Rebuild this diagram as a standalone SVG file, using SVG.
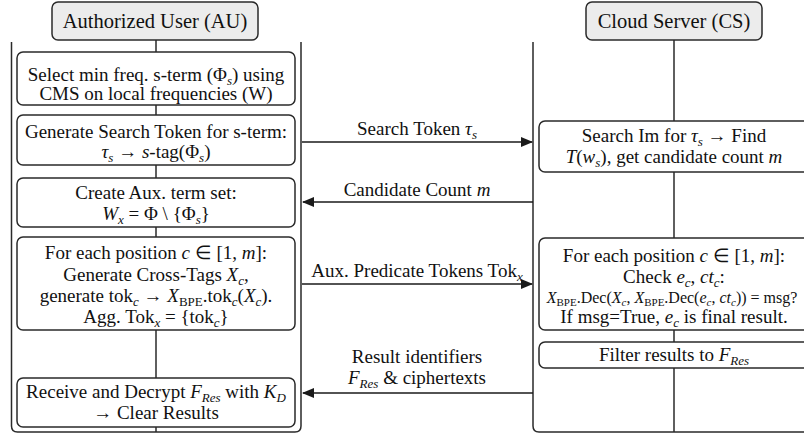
<svg xmlns="http://www.w3.org/2000/svg" width="804" height="435" viewBox="0 0 804 435">
<defs>
<style>
.box{fill:#fff;stroke:#2a2a2a;stroke-width:1.5}
.hdr{fill:#ececec;stroke:#2a2a2a;stroke-width:1.5}
.lane{fill:none;stroke:#2a2a2a;stroke-width:1.5}
.life{stroke:#2a2a2a;stroke-width:1.5}
.arr{stroke:#1a1a1a;stroke-width:1.6;fill:none}
text{font-family:"Liberation Serif","Times New Roman",serif;font-size:19px;fill:#111;text-anchor:middle}
.h{font-size:20.5px}
.sm{font-size:16px}
.i{font-style:italic}
.sub{font-size:13px;baseline-shift:-4px}
.sm .sub{font-size:11px;baseline-shift:-3px}
</style>
<marker id="ah" markerUnits="userSpaceOnUse" markerWidth="12" markerHeight="10" refX="11" refY="5" orient="auto">
<path d="M0,0 L12,5 L0,10 z" fill="#1a1a1a"/>
</marker>
</defs>

<g id="lanes">
<path class="lane" d="M11.5,42 V426 Q11.5,432 17.5,432 H295 Q301,432 301,426 V42"/>
<path class="lane" d="M533,42 V426 Q533,432 539,432 H810"/>
<line class="life" x1="156" y1="40" x2="156" y2="432"/>
<line class="life" x1="674" y1="40" x2="674" y2="432"/>
</g>

<g id="au-header">
<rect class="hdr" x="52" y="2" width="206" height="38" rx="6"/>
<text class="h" x="155" y="28">Authorized User (AU)</text>
</g>
<g id="cs-header">
<rect class="hdr" x="586" y="2" width="176" height="38" rx="6"/>
<text class="h" x="674" y="28">Cloud Server (CS)</text>
</g>

<g id="au1">
<rect class="box" x="17" y="52" width="278" height="53" rx="6"/>
<text x="156" y="81">Select min freq. s-term (Φ<tspan class="sub i">s</tspan>) using</text>
<text x="156" y="100">CMS on local frequencies (W)</text>
</g>
<g id="au2">
<rect class="box" x="17" y="115" width="278" height="50" rx="6"/>
<text x="156" y="138">Generate Search Token for s-term:</text>
<text x="156" y="158"><tspan class="i">τ</tspan><tspan class="sub i">s</tspan> → <tspan class="i">s</tspan>-tag(Φ<tspan class="sub i">s</tspan>)</text>
</g>
<g id="au3">
<rect class="box" x="17" y="178" width="278" height="49" rx="6"/>
<text x="156" y="199">Create Aux. term set:</text>
<text x="156" y="220"><tspan class="i">W</tspan><tspan class="sub i">x</tspan> = Φ \ {Φ<tspan class="sub i">s</tspan>}</text>
</g>
<g id="au4">
<rect class="box" x="17" y="237" width="278" height="93" rx="6"/>
<text x="156" y="259">For each position <tspan class="i">c</tspan> ∈ [1, <tspan class="i">m</tspan>]:</text>
<text x="156" y="281">Generate Cross-Tags <tspan class="i">X</tspan><tspan class="sub i">c</tspan>,</text>
<text x="156" y="302">generate tok<tspan class="sub i">c</tspan> → <tspan class="i">X</tspan><tspan class="sub">BPE</tspan>.tok<tspan class="sub i">c</tspan>(<tspan class="i">X</tspan><tspan class="sub i">c</tspan>).</text>
<text x="156" y="323">Agg. Tok<tspan class="sub i">x</tspan> = {tok<tspan class="sub i">c</tspan>}</text>
</g>
<g id="au5">
<rect class="box" x="17" y="378" width="278" height="49" rx="6"/>
<text x="156" y="398">Receive and Decrypt <tspan class="i">F</tspan><tspan class="sub i">Res</tspan> with <tspan class="i">K</tspan><tspan class="sub i">D</tspan></text>
<text x="156" y="419">→ Clear Results</text>
</g>

<g id="cs1">
<rect class="box" x="539" y="121" width="272" height="51" rx="6"/>
<text x="674" y="142">Search Im for <tspan class="i">τ</tspan><tspan class="sub i">s</tspan> → Find</text>
<text x="674" y="163"><tspan class="i">T</tspan>(<tspan class="i">w</tspan><tspan class="sub i">s</tspan>), get candidate count <tspan class="i">m</tspan></text>
</g>
<g id="cs2">
<rect class="box" x="539" y="238" width="272" height="92" rx="6"/>
<text x="674" y="262">For each position <tspan class="i">c</tspan> ∈ [1, <tspan class="i">m</tspan>]:</text>
<text x="674" y="283">Check <tspan class="i">e</tspan><tspan class="sub i">c</tspan>, <tspan class="i">ct</tspan><tspan class="sub i">c</tspan>:</text>
<text class="sm" x="672" y="303"><tspan class="i">X</tspan><tspan class="sub">BPE</tspan>.Dec(<tspan class="i">X</tspan><tspan class="sub i">c</tspan>, <tspan class="i">X</tspan><tspan class="sub">BPE</tspan>.Dec(<tspan class="i">e</tspan><tspan class="sub i">c</tspan>, <tspan class="i">ct</tspan><tspan class="sub i">c</tspan>)) = msg?</text>
<text x="674" y="323">If msg=True, <tspan class="i">e</tspan><tspan class="sub i">c</tspan> is final result.</text>
</g>
<g id="cs3">
<rect class="box" x="539" y="342" width="272" height="26" rx="6"/>
<text x="674" y="361">Filter results to <tspan class="i">F</tspan><tspan class="sub i">Res</tspan></text>
</g>

<g id="connectors">
<line class="arr" x1="302" y1="142" x2="532" y2="142" marker-end="url(#ah)"/>
<text x="417" y="135">Search Token <tspan class="i">τ</tspan><tspan class="sub i">s</tspan></text>
<line class="arr" x1="533" y1="202" x2="303" y2="202" marker-end="url(#ah)"/>
<text x="417" y="196">Candidate Count <tspan class="i">m</tspan></text>
<line class="arr" x1="302" y1="284" x2="532" y2="284" marker-end="url(#ah)"/>
<text x="417" y="277">Aux. Predicate Tokens Tok<tspan class="sub i">x</tspan></text>
<line class="arr" x1="533" y1="393" x2="303" y2="393" marker-end="url(#ah)"/>
<text x="417" y="363">Result identifiers</text>
<text x="417" y="384"><tspan class="i">F</tspan><tspan class="sub i">Res</tspan> &amp; ciphertexts</text>
</g>
</svg>
